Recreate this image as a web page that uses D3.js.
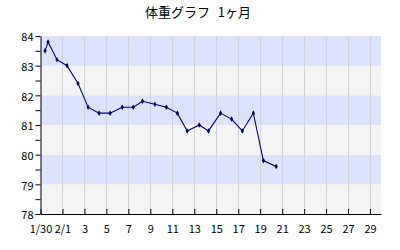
<!DOCTYPE html>
<html><head><meta charset="utf-8">
<script src="https://cdn.jsdelivr.net/npm/d3@7"></script>
<style>
html,body{margin:0;padding:0;background:#fff;}
svg{display:block;}
text{font-family:"Noto Sans CJK JP","Noto Sans",sans-serif;}
</style></head>
<body>
<svg id="c" width="400" height="250"></svg>
<script>
const title = "体重グラフ 1ヶ月";
const times = ["2012-01-30T10:00","2012-01-30T16:30","2012-01-31T12:00","2012-02-01T10:00","2012-02-02T10:00",
  "2012-02-03T08:00","2012-02-04T08:00","2012-02-05T08:00","2012-02-06T10:30","2012-02-07T10:30",
  "2012-02-08T07:00","2012-02-09T10:00","2012-02-10T11:00","2012-02-11T11:00","2012-02-12T08:30",
  "2012-02-13T11:00","2012-02-14T07:00","2012-02-15T09:30","2012-02-16T09:30","2012-02-17T09:00",
  "2012-02-18T09:00","2012-02-19T07:00","2012-02-20T11:00"];
const weights = [83.5,83.8,83.2,83.0,82.4,81.6,81.4,81.4,81.6,81.6,81.8,81.7,81.6,81.4,80.8,81.0,80.8,81.4,81.2,80.8,81.4,79.8,79.6];
const xTickDates = ["2012-01-30","2012-02-01","2012-02-03","2012-02-05","2012-02-07","2012-02-09","2012-02-11","2012-02-13",
  "2012-02-15","2012-02-17","2012-02-19","2012-02-21","2012-02-23","2012-02-25","2012-02-27","2012-02-29"];
const xTickLabels = ["1/30","2/1","3","5","7","9","11","13","15","17","19","21","23","25","27","29"];
const yTicks = [78,79,80,81,82,83,84];
const yMinorTicks = [78.5,79.5,80.5,81.5,82.5,83.5];
const xDomain = ["2012-01-30","2012-03-01"];
const yDomain = [78,84];

const parse = d3.isoParse;
const pts = times.map((t,i)=>({t:parse(t), w:weights[i]}));
const svg = d3.select("#c");
const L=40.5, R=381, T=36, B=214;
const x = d3.scaleTime().domain(xDomain.map(parse)).range([L,R]);
const y = d3.scaleLinear().domain(yDomain).range([B,T]);

svg.append("text").attr("x",198).attr("y",17).attr("text-anchor","middle")
  .attr("font-size",13).attr("word-spacing",5).attr("fill","#000").text(title);

// bands
const bands = d3.range(yDomain[0], yDomain[1]);
svg.append("g").selectAll("rect").data(bands).join("rect")
  .attr("x",L).attr("width",R-L)
  .attr("y",d=>y(d+1)).attr("height",d=>y(d)-y(d+1))
  .attr("fill",d=>(d%2===1)?"#dce3fb":"#f4f4f4");

// vertical grid
svg.append("g").selectAll("line").data(xTickDates.slice(1)).join("line")
  .attr("x1",d=>Math.round(x(parse(d)))+0.5).attr("x2",d=>Math.round(x(parse(d)))+0.5)
  .attr("y1",T).attr("y2",B).attr("stroke","#d2d2d2").attr("stroke-width",1);

// line
svg.append("path").datum(pts)
  .attr("d",d3.line().x(d=>x(d.t)).y(d=>y(d.w)))
  .attr("fill","none").attr("stroke","#000080").attr("stroke-width",1.1);
svg.append("g").selectAll("path").data(pts).join("path")
  .attr("transform",d=>`translate(${x(d.t)},${y(d.w)})`)
  .attr("d",d3.symbol(d3.symbolDiamond,9))
  .attr("fill","#000050");

// y axis
const ya = svg.append("g").attr("transform",`translate(${L},0)`)
  .call(d3.axisLeft(y).tickValues(yTicks).tickSize(5).tickSizeOuter(0).tickFormat(d3.format("d")));
svg.append("g").attr("transform",`translate(${L},0)`)
  .call(d3.axisLeft(y).tickValues(yMinorTicks).tickSize(5).tickSizeOuter(0).tickFormat(""))
  .select(".domain").remove();
ya.selectAll("text").attr("font-size",11).attr("fill","#000").attr("x",-7).attr("dy","0.45em");

// x axis
const xa = svg.append("g").attr("transform",`translate(0,${B})`)
  .call(d3.axisBottom(x).tickValues(xTickDates.map(parse)).tickSize(-5).tickSizeOuter(0)
    .tickFormat((d,i)=>xTickLabels[i]));
xa.selectAll("text").attr("font-size",11).attr("fill","#000").attr("y",11);
svg.selectAll(".domain,.tick line").attr("stroke","#000");
</script>
</body></html>
